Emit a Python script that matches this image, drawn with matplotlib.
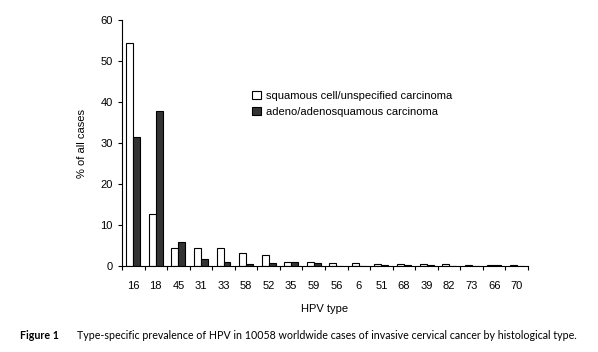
import numpy as np
import matplotlib
matplotlib.use("Agg")
import matplotlib.pyplot as plt

# ---------------- Data ----------------
hpv_types = ["16", "18", "45", "31", "33", "58", "52", "35", "59",
             "56", "6", "51", "68", "39", "82", "73", "66", "70"]
squamous = [54.4, 12.6, 4.4, 4.4, 4.4, 3.1, 2.6, 1.0, 0.9,
            0.7, 0.7, 0.6, 0.5, 0.4, 0.4, 0.3, 0.3, 0.2]
adeno = [31.4, 37.8, 6.0, 1.8, 1.1, 0.6, 0.7, 1.0, 0.7,
         0.1, 0.1, 0.2, 0.3, 0.2, 0.1, 0.1, 0.2, 0.1]

plt.rcParams["font.family"] = ["Liberation Sans", "DejaVu Sans"]

# ---------------- Plot ----------------
fig = plt.figure(figsize=(5.98, 3.52), dpi=100)
ax = fig.add_axes([0.204, 0.244, 0.679, 0.699])

x = np.arange(len(hpv_types))
w = 0.31
ax.bar(x - w / 2, squamous, w, color="white", edgecolor="black", linewidth=0.8,
       label="squamous cell/unspecified carcinoma")
ax.bar(x + w / 2, adeno, w, color="#333333", edgecolor="black", linewidth=0.8,
       label="adeno/adenosquamous carcinoma")

ax.set_xlim(-0.5, len(hpv_types) - 0.5)
ax.set_ylim(0, 60)
ax.set_yticks(range(0, 61, 10))
ax.set_xticks(x)
ax.set_xticklabels(hpv_types, fontsize=8)
ax.set_xticks(np.arange(-0.5, len(hpv_types)), minor=True)
ax.tick_params(axis="x", which="major", length=0, pad=11)
ax.tick_params(axis="x", which="minor", length=3, width=0.8, direction="out")
ax.tick_params(axis="y", length=3, width=0.8, direction="out", labelsize=8)

for s in ["top", "right"]:
    ax.spines[s].set_visible(False)
for s in ["left", "bottom"]:
    ax.spines[s].set_linewidth(0.8)

ax.set_ylabel("% of all cases", fontsize=8, labelpad=10)
ax.set_xlabel("HPV type", fontsize=8, labelpad=9)

ax.legend(loc="upper left", bbox_to_anchor=(0.31, 0.73), frameon=False, fontsize=8,
          handlelength=0.8, handleheight=0.8, handletextpad=0.4, labelspacing=0.5,
          borderaxespad=0)

fig.text(0.033, 0.038, "Figure 1", fontsize=7.7, fontweight="bold", family="Lato")
fig.text(0.129, 0.038, "Type-specific prevalence of HPV in 10058 worldwide cases of invasive "
         "cervical cancer by histological type.", fontsize=7.7, family="Lato")

fig.savefig("out.png", dpi=100)
